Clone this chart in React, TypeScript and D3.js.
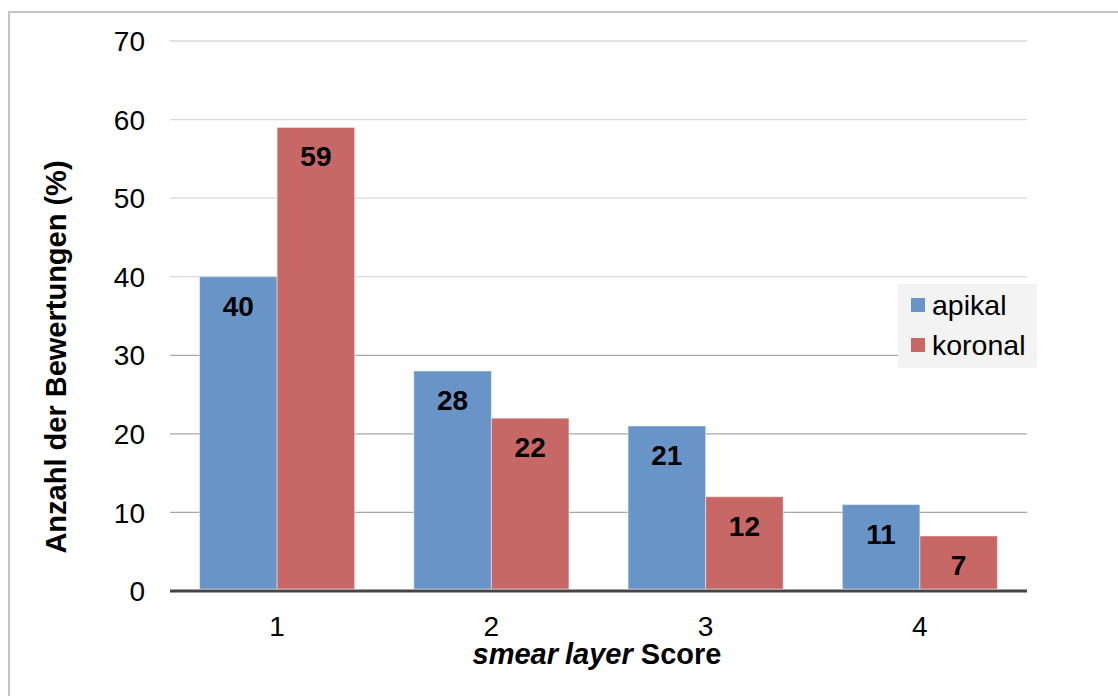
import React from "react";
import * as d3 from "d3";

const categories = ["1", "2", "3", "4"];
const seriesNames = ["apikal", "koronal"];
const apikal = [40, 28, 21, 11];
const koronal = [59, 22, 12, 7];
const yTicks = [0, 10, 20, 30, 40, 50, 60, 70];
const colors = ["#6894c8", "#c86866"];

export default function App() {
  const W = 1118, H = 696;
  const left = 170, right = 1027, top = 41, bottom = 591;
  const x = d3.scaleBand().domain(categories).range([left, right]).paddingInner(0.276).paddingOuter(0.138);
  const xs = d3.scaleBand().domain(seriesNames).range([0, x.bandwidth()]);
  const y = d3.scaleLinear().domain([0, 70]).range([bottom, top]);
  const font = "Arial, 'Liberation Sans', sans-serif";
  const values = [apikal, koronal];
  return (
    <svg width={W} height={H} style={{ position: "absolute", left: 0, top: 0, background: "#fff" }} fontFamily={font}>
      <rect x={0} y={0} width={W} height={H} fill="#fff" />
      <line x1={8} y1={12} x2={W} y2={12} stroke="#c4c4c4" strokeWidth={2} />
      <line x1={9} y1={11} x2={9} y2={H} stroke="#c4c4c4" strokeWidth={2} />
      {yTicks.filter(t => t > 0).map(t => (
        <line key={t} x1={left} x2={right} y1={y(t)} y2={y(t)} stroke={t <= 30 ? "#a8a8a8" : "#d8d8d8"} strokeWidth={1.3} />
      ))}
      {yTicks.map(t => (
        <text key={t} x={145} y={y(t)} dy="0.36em" textAnchor="end" fontSize={28} fill="#000">{t}</text>
      ))}
      {categories.map((c, i) => (
        <g key={c}>
          {seriesNames.map((s, j) => {
            const v = values[j][i];
            const bx = (x(c) as number) + (xs(s) as number);
            const bw = xs.bandwidth();
            return (
              <g key={s}>
                <rect x={bx} y={y(v)} width={bw} height={y(0) - y(v) - 2} fill={colors[j]} stroke="#ffffff" strokeOpacity={0.45} strokeWidth={1} />
                <text x={bx + bw / 2} y={y(v) + 39} textAnchor="middle" fontSize={28} fontWeight="bold" fill="#000">{v}</text>
              </g>
            );
          })}
          <text x={(x(c) as number) + x.bandwidth() / 2} y={636} textAnchor="middle" fontSize={28} fill="#000">{c}</text>
        </g>
      ))}
      <line x1={left} x2={right} y1={591} y2={591} stroke="#454545" strokeWidth={3} />
      <text x={597} y={664} textAnchor="middle" fontSize={29} fontWeight="bold" fill="#000">
        <tspan fontStyle="italic">smear</tspan>
        <tspan fontStyle="italic" dx={7}>layer</tspan>
        <tspan> Score</tspan>
      </text>
      <text transform={`translate(66, 357) rotate(-90)`} textAnchor="middle" fontSize={29} fontWeight="bold" fill="#000">Anzahl der Bewertungen (%)</text>
      <rect x={898} y={284} width={139} height={84} fill="#f3f3f3" />
      {seriesNames.map((s, j) => (
        <g key={s}>
          <rect x={911} y={298 + j * 40} width={14} height={14} fill={colors[j]} />
          <text x={932} y={315 + j * 40} fontSize={28.5} fill="#000">{s}</text>
        </g>
      ))}
    </svg>
  );
}
